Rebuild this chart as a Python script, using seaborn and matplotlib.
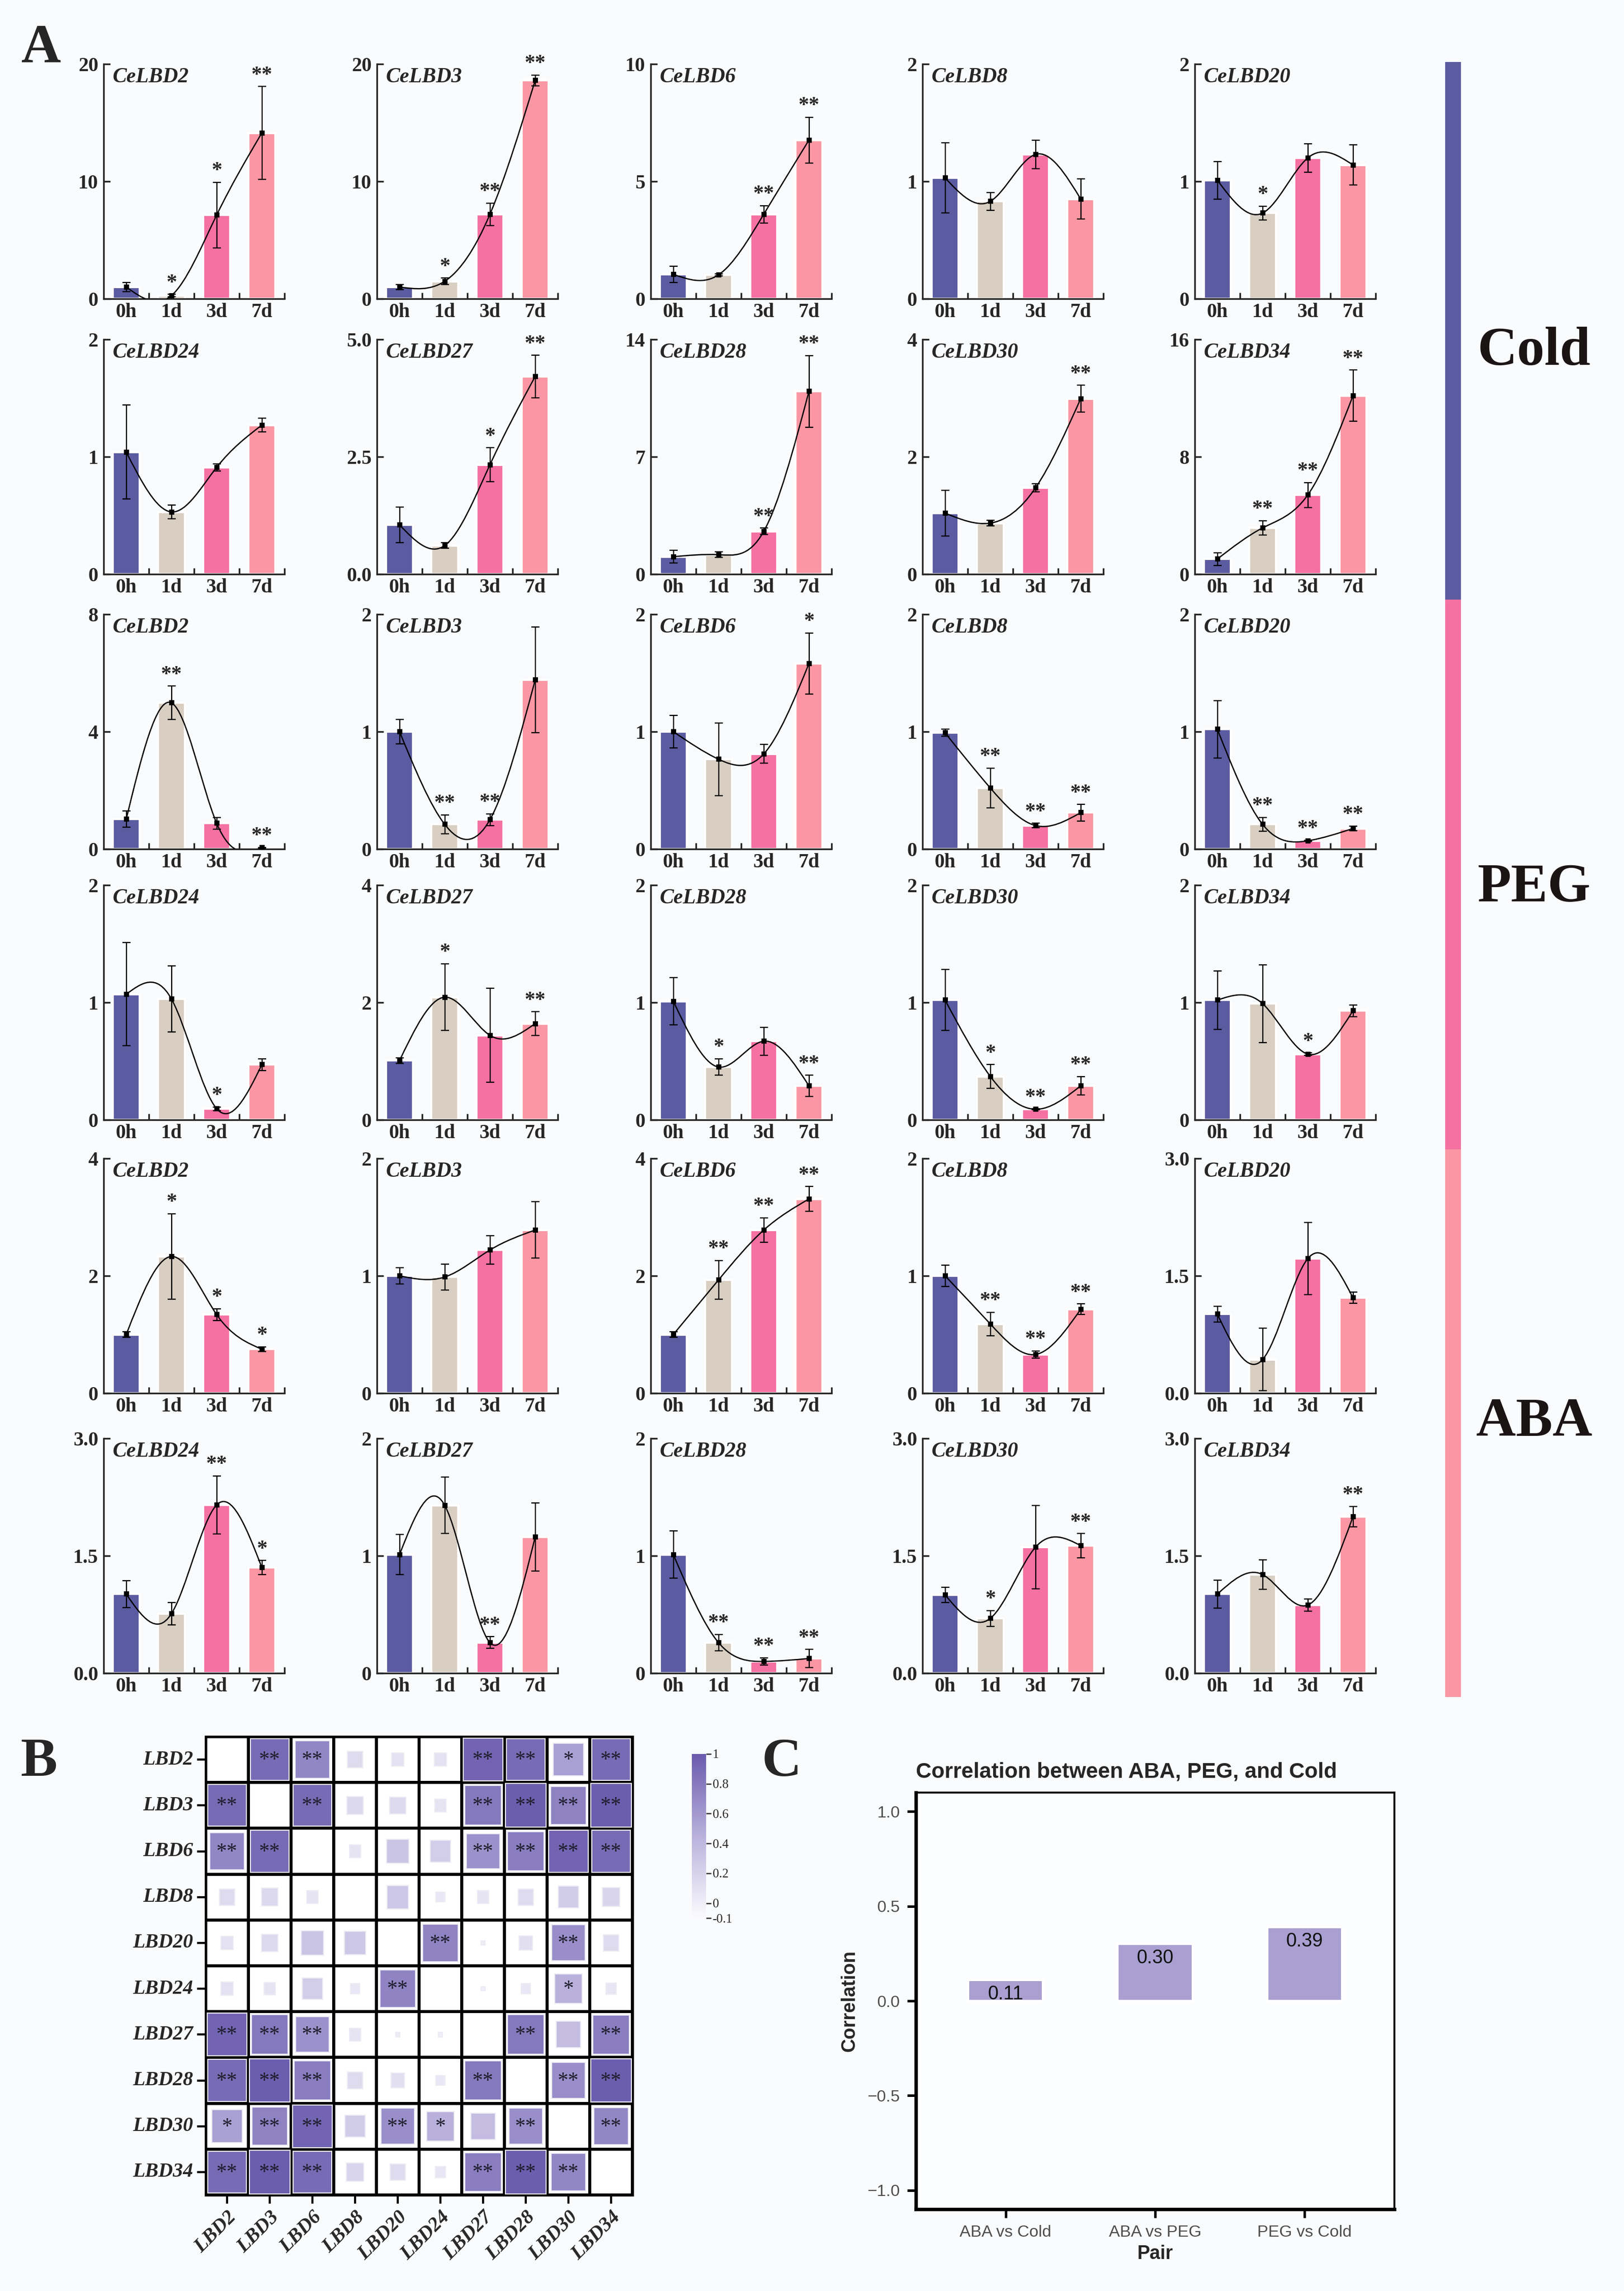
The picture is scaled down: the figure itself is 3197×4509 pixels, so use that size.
import numpy as np
import matplotlib
matplotlib.use('Agg')
import matplotlib.pyplot as plt
import seaborn as sns
from matplotlib.path import Path
from matplotlib.patches import PathPatch, Rectangle
from matplotlib.colors import LinearSegmentedColormap, ListedColormap, Normalize
from matplotlib.cm import ScalarMappable

# ---------------- data ----------------
genes = ['CeLBD2', 'CeLBD3', 'CeLBD6', 'CeLBD8', 'CeLBD20',
         'CeLBD24', 'CeLBD27', 'CeLBD28', 'CeLBD30', 'CeLBD34']
times = ['0h', '1d', '3d', '7d']
treatments = ['Cold', 'PEG', 'ABA']

cold_mean = [
    [1.00, 0.27, 7.13, 14.13],
    [1.00, 1.49, 7.20, 18.60],
    [1.04, 1.02, 3.60, 6.76],
    [1.03, 0.83, 1.23, 0.85],
    [1.01, 0.73, 1.20, 1.14],
    [1.04, 0.53, 0.91, 1.27],
    [1.05, 0.61, 2.33, 4.21],
    [1.04, 1.16, 2.55, 10.90],
    [1.04, 0.87, 1.47, 2.99],
    [1.03, 3.15, 5.40, 12.16],
]
cold_sd = [
    [0.38, 0.10, 2.80, 3.95],
    [0.23, 0.27, 0.95, 0.45],
    [0.35, 0.05, 0.37, 0.97],
    [0.30, 0.075, 0.12, 0.17],
    [0.16, 0.06, 0.12, 0.17],
    [0.40, 0.06, 0.03, 0.06],
    [0.38, 0.06, 0.36, 0.45],
    [0.37, 0.17, 0.20, 2.13],
    [0.39, 0.05, 0.07, 0.23],
    [0.44, 0.50, 0.85, 1.75],
]
cold_sig = [
    ['', '*', '*', '**'],
    ['', '*', '**', '**'],
    ['', '', '**', '**'],
    ['', '', '', ''],
    ['', '*', '', ''],
    ['', '', '', ''],
    ['', '', '*', '**'],
    ['', '', '**', '**'],
    ['', '', '', '**'],
    ['', '**', '**', '**'],
]
cold_ymax = ['20', '20', '10', '2', '2', '2', '5.0', '14', '4', '16']

peg_mean = [
    [1.02, 4.98, 0.88, 0.05],
    [1.00, 0.21, 0.25, 1.44],
    [1.00, 0.765, 0.81, 1.58],
    [0.99, 0.52, 0.20, 0.31],
    [1.02, 0.21, 0.07, 0.175],
    [1.07, 1.03, 0.095, 0.47],
    [1.01, 2.09, 1.44, 1.64],
    [1.01, 0.45, 0.67, 0.29],
    [1.02, 0.37, 0.09, 0.29],
    [1.02, 0.99, 0.56, 0.93],
]
peg_sd = [
    [0.28, 0.57, 0.20, 0.01],
    [0.105, 0.08, 0.05, 0.45],
    [0.14, 0.31, 0.08, 0.26],
    [0.03, 0.17, 0.02, 0.07],
    [0.245, 0.06, 0.005, 0.02],
    [0.44, 0.28, 0.015, 0.05],
    [0.05, 0.57, 0.80, 0.20],
    [0.20, 0.07, 0.12, 0.09],
    [0.26, 0.10, 0.005, 0.08],
    [0.25, 0.33, 0.01, 0.05],
]
peg_sig = [
    ['', '**', '', '**'],
    ['', '**', '**', ''],
    ['', '', '', '*'],
    ['', '**', '**', '**'],
    ['', '**', '**', '**'],
    ['', '', '*', ''],
    ['', '*', '', '**'],
    ['', '*', '', '**'],
    ['', '*', '**', '**'],
    ['', '', '*', ''],
]
peg_ymax = ['8', '2', '2', '2', '2', '2', '4', '2', '2', '2']

aba_mean = [
    [1.00, 2.33, 1.34, 0.75],
    [1.00, 0.99, 1.22, 1.39],
    [1.00, 1.93, 2.78, 3.31],
    [1.00, 0.59, 0.33, 0.715],
    [1.01, 0.43, 1.72, 1.22],
    [1.01, 0.76, 2.15, 1.35],
    [1.01, 1.43, 0.26, 1.16],
    [1.01, 0.26, 0.10, 0.125],
    [1.00, 0.70, 1.61, 1.63],
    [1.01, 1.26, 0.87, 2.00],
]
aba_sd = [
    [0.05, 0.73, 0.10, 0.04],
    [0.07, 0.11, 0.12, 0.24],
    [0.05, 0.33, 0.21, 0.21],
    [0.09, 0.10, 0.03, 0.045],
    [0.10, 0.40, 0.46, 0.07],
    [0.17, 0.14, 0.37, 0.09],
    [0.17, 0.24, 0.05, 0.29],
    [0.20, 0.07, 0.03, 0.078],
    [0.10, 0.10, 0.53, 0.155],
    [0.18, 0.19, 0.08, 0.13],
]
aba_sig = [
    ['', '*', '*', '*'],
    ['', '', '', ''],
    ['', '**', '**', '**'],
    ['', '**', '**', '**'],
    ['', '', '', ''],
    ['', '', '**', '*'],
    ['', '', '**', ''],
    ['', '**', '**', '**'],
    ['', '*', '', '**'],
    ['', '', '', '**'],
]
aba_ymax = ['4', '2', '4', '2', '3.0', '3.0', '2', '2', '3.0', '3.0']

# correlation between genes (upper triangle, row gene vs following genes)
lbd_names = ['LBD2', 'LBD3', 'LBD6', 'LBD8', 'LBD20',
             'LBD24', 'LBD27', 'LBD28', 'LBD30', 'LBD34']
lbd_r_upper = [
    [0.90, 0.72, 0.14, 0.09, 0.09, 0.94, 0.90, 0.56, 0.90],
    [0.90, 0.16, 0.15, 0.08, 0.81, 0.98, 0.75, 0.98],
    [0.08, 0.30, 0.24, 0.65, 0.78, 0.94, 0.90],
    [0.28, 0.05, 0.08, 0.14, 0.25, 0.18],
    [0.74, 0.01, 0.11, 0.67, 0.14],
    [-0.01, 0.05, 0.45, 0.06],
    [0.81, 0.36, 0.78],
    [0.67, 0.98],
    [0.72],
]
lbd_sig_upper = [
    ['**', '**', '', '', '', '**', '**', '*', '**'],
    ['**', '', '', '', '**', '**', '**', '**'],
    ['', '', '', '**', '**', '**', '**'],
    ['', '', '', '', '', ''],
    ['**', '', '', '**', ''],
    ['', '', '*', ''],
    ['**', '', '**'],
    ['**', '**'],
    ['**'],
]
cbar_ticks = [1, 0.8, 0.6, 0.4, 0.2, 0, -0.1]

pair_names = ['ABA vs Cold', 'ABA vs PEG', 'PEG vs Cold']
pair_corr = [0.11, 0.30, 0.39]

# ---------------- style ----------------
sns.set_style('ticks')
plt.rcParams['font.family'] = ['Liberation Serif', 'DejaVu Serif']
plt.rcParams['axes.unicode_minus'] = True

bg = '#f9fbfd'
time_colors = ['#5b5ba1', '#d8cec2', '#f571a2', '#fb97a4']
side_colors = ['#5b5ba1', '#f571a2', '#fb97a4']

W, H = 3197, 4509
fig = plt.figure(figsize=(W / 300, H / 300), dpi=300, facecolor=bg)


def px_axes(x0, y0, x1, y1):
    """axes from pixel box (left, top, right, bottom)"""
    return fig.add_axes([x0 / W, 1 - y1 / H, (x1 - x0) / W, (y1 - y0) / H])


def spline_path(ys):
    # natural cubic spline through the points, drawn as bezier segments
    y = np.asarray(ys, float)
    n = len(y)
    A = np.zeros((n, n))
    b = np.zeros(n)
    A[0, 0] = A[-1, -1] = 1
    for i in range(1, n - 1):
        A[i, i - 1:i + 2] = [1, 4, 1]
        b[i] = 6 * (y[i + 1] - 2 * y[i] + y[i - 1])
    M = np.linalg.solve(A, b)
    verts = [(0, y[0])]
    codes = [Path.MOVETO]
    for i in range(n - 1):
        d = y[i + 1] - y[i]
        s0 = d - (2 * M[i] + M[i + 1]) / 6
        s1 = d + (M[i] + 2 * M[i + 1]) / 6
        verts += [(i + 1 / 3, y[i] + s0 / 3), (i + 2 / 3, y[i + 1] - s1 / 3), (i + 1, y[i + 1])]
        codes += [Path.CURVE4] * 3
    return Path(verts, codes)


def expr_panel(ax, name, mean, sd, sig, ymax_txt):
    ymax = float(ymax_txt)
    dec = 1 if '.' in ymax_txt else 0
    sns.barplot(x=times, y=mean, hue=times, palette=time_colors, order=times,
                width=0.6, saturation=1, legend=False, errorbar=None, ax=ax, zorder=1)
    xs = np.arange(len(times))
    ax.errorbar(xs, mean, yerr=sd, fmt='none', ecolor='black', elinewidth=0.55,
                capsize=2.0, capthick=0.55, zorder=3)
    ax.add_patch(PathPatch(spline_path(mean), facecolor='none', edgecolor='black',
                           lw=0.6, zorder=4, clip_on=True))
    ax.plot(xs, mean, 's', ms=1.6, color='black', zorder=5)
    for i in range(len(times)):
        if sig[i]:
            ax.text(xs[i], mean[i] + sd[i] + 0.025 * ymax, sig[i], ha='center',
                    va='baseline', fontsize=10, fontweight='bold', zorder=6)
    ax.set_xlim(-0.5, 3.5)
    ax.set_ylim(0, ymax)
    ax.set_facecolor('none')
    ticks = [0, ymax / 2, ymax]
    ax.set_yticks(ticks)
    ax.set_yticklabels([f'{t:.{dec}f}' for t in ticks])
    ax.set_xticks([0.5, 1.5, 2.5, 3.5], minor=True)
    ax.tick_params(axis='x', which='major', length=0, pad=2, labelsize=9.5)
    ax.tick_params(axis='x', which='minor', direction='in', length=3, width=0.8)
    ax.tick_params(axis='y', which='major', direction='in', length=3, width=0.8,
                   pad=2.5, labelsize=9.5)
    for lab in ax.get_xticklabels() + ax.get_yticklabels():
        lab.set_fontweight('bold')
    ax.set_xlabel('')
    ax.set_ylabel('')
    sns.despine(ax=ax)
    for s in ('left', 'bottom'):
        ax.spines[s].set_linewidth(0.8)
    ax.text(0.05, 0.985, name, transform=ax.transAxes, ha='left', va='top',
            fontsize=10, fontstyle='italic', fontweight='bold')


# ---------------- panel A ----------------
col_left = [204, 742, 1281, 1816, 2352]
row_top = [126, 668, 1209, 1742, 2280, 2831]
ax_w, ax_h = 356, 462
all_mean = [cold_mean, peg_mean, aba_mean]
all_sd = [cold_sd, peg_sd, aba_sd]
all_sig = [cold_sig, peg_sig, aba_sig]
all_ymax = [cold_ymax, peg_ymax, aba_ymax]

for t in range(len(treatments)):
    for k, g in enumerate(genes):
        r = 2 * t + k // 5
        c = k % 5
        ax = px_axes(col_left[c], row_top[r], col_left[c] + ax_w, row_top[r] + ax_h)
        expr_panel(ax, g, all_mean[t][k], all_sd[t][k], all_sig[t][k], all_ymax[t][k])

# side bars with treatment names
side_edges = [122, 1180, 2262, 3340]
side_ax = px_axes(2845, side_edges[0], 2876, side_edges[-1])
side_ax.set_ylim(side_edges[-1], side_edges[0])
side_ax.set_xlim(0, 1)
side_ax.axis('off')
label_y = [692, 1748, 2800]
for t, name in enumerate(treatments):
    side_ax.add_patch(Rectangle((0, side_edges[t]), 1, side_edges[t + 1] - side_edges[t],
                                facecolor=side_colors[t], edgecolor='none'))
    fig.text(3020 / W, 1 - label_y[t] / H, name, ha='center', va='center',
             fontsize=26, fontweight='bold', color='#1c1414')

fig.text(42 / W, 1 - 122 / H, 'A', fontsize=26, fontweight='bold', va='baseline')

# ---------------- panel B ----------------
n = len(lbd_names)
corr = np.eye(n)
sig_mat = [['' for _ in range(n)] for _ in range(n)]
for i in range(n - 1):
    for jj, v in enumerate(lbd_r_upper[i]):
        j = i + 1 + jj
        corr[i, j] = corr[j, i] = v
        sig_mat[i][j] = sig_mat[j][i] = lbd_sig_upper[i][jj]

cmap = LinearSegmentedColormap.from_list('lbd', ['#fbfbfe', '#b9b1dc', '#6a5bad'])
norm = Normalize(-0.1, 1)

axh = px_axes(405, 3418, 1245, 4320)
sns.heatmap(np.zeros((n, n)), cmap=ListedColormap(['white']), vmin=0, vmax=1,
            cbar=False, linewidths=1.0, linecolor='black', ax=axh,
            xticklabels=lbd_names, yticklabels=lbd_names)
for i in range(n):
    for j in range(n):
        if i == j:
            continue
        v = corr[i, j]
        s = 0.96 * np.sqrt(abs(v))
        axh.add_patch(Rectangle((j + 0.5 - s / 2, i + 0.5 - s / 2), s, s,
                                facecolor=cmap(norm(v)), edgecolor='#ecebf4', lw=0.5, zorder=3))
        if sig_mat[i][j]:
            axh.text(j + 0.5, i + 0.52, sig_mat[i][j], ha='center', va='center',
                     fontsize=10, color='#1e1e2c', zorder=4)
for s in axh.spines.values():
    s.set_visible(True)
    s.set_linewidth(1.2)
    s.set_color('black')
axh.tick_params(axis='both', length=4, width=1, direction='out', color='black',
                left=True, bottom=True, labelsize=9.5, pad=2)
axh.set_yticklabels(lbd_names, rotation=0, fontstyle='italic', fontweight='bold')
axh.set_xticklabels(lbd_names, rotation=45, ha='right', rotation_mode='anchor',
                    fontstyle='italic', fontweight='bold')

cax = px_axes(1362, 3452, 1390, 3775)
cb = fig.colorbar(ScalarMappable(norm=norm, cmap=cmap), cax=cax, ticks=cbar_ticks)
cb.outline.set_visible(False)
cb.ax.set_yticklabels([f'{t:g}' for t in cbar_ticks])
cb.ax.tick_params(labelsize=6, length=2.5, width=0.6, pad=0.5, color='#333333')

fig.text(40 / W, 1 - 3495 / H, 'B', fontsize=26, fontweight='bold', va='baseline')

# ---------------- panel C ----------------
sans = ['Liberation Sans', 'DejaVu Sans']
axc = px_axes(1803, 3528, 2745, 4348)
sns.barplot(x=pair_names, y=pair_corr, color='#a99fd0', width=0.5, saturation=1,
            errorbar=None, ax=axc)
axc.set_facecolor('#fcfdfe')
axc.set_ylim(-1.1, 1.1)
axc.set_xlim(-0.6, 2.6)
yt = [-1.0, -0.5, 0.0, 0.5, 1.0]
axc.set_yticks(yt)
axc.set_yticklabels([f'{v:.1f}'.replace('-', '\u2212') for v in yt])
for i, v in enumerate(pair_corr):
    axc.text(i, v - 0.075, f'{v:.2f}', ha='center', va='center', fontsize=9,
             family=sans, color='#111111')
axc.tick_params(axis='both', length=4, width=1.2, color='black', labelsize=7.8,
                labelcolor='#4d4d4d', direction='out')
for lab in axc.get_xticklabels() + axc.get_yticklabels():
    lab.set_family(sans)
axc.set_xlabel('Pair', fontsize=9, fontweight='bold', family=sans, labelpad=2)
axc.set_ylabel('Correlation', fontsize=9, fontweight='bold', family=sans, labelpad=4)
axc.set_title('Correlation between ABA, PEG, and Cold', loc='left', fontsize=10.2,
              fontweight='bold', family=sans, pad=7)
for s in axc.spines.values():
    s.set_visible(True)
    s.set_color('black')
axc.spines['left'].set_linewidth(1.6)
axc.spines['bottom'].set_linewidth(1.6)
axc.spines['top'].set_linewidth(0.9)
axc.spines['right'].set_linewidth(0.9)

fig.text(1500 / W, 1 - 3495 / H, 'C', fontsize=26, fontweight='bold', va='baseline')

fig.savefig('out.png', dpi=300, facecolor=bg)
